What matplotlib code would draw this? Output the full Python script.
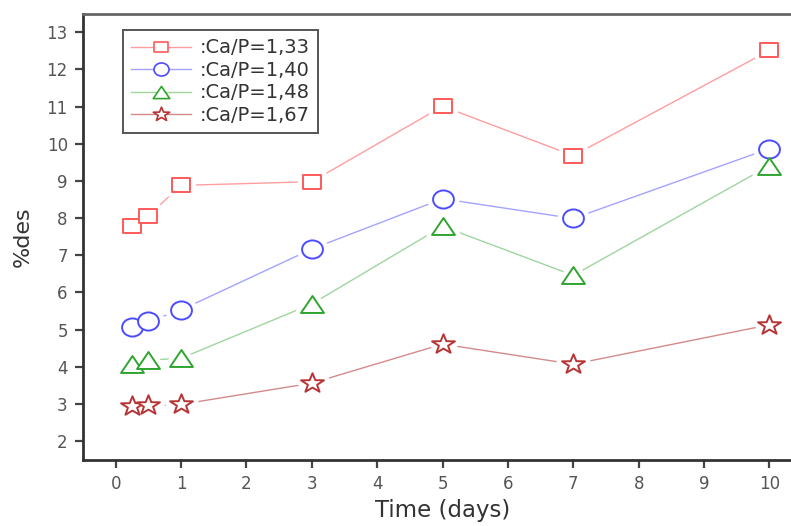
"""Ca/P ratio dissolution curves: %des versus time (days)."""
import matplotlib
matplotlib.use("Agg")
import matplotlib.pyplot as plt
import numpy as np
from matplotlib.lines import Line2D
from matplotlib.path import Path

plt.rcParams["font.family"] = ["DejaVu Sans"]

# ---------------------------------------------------------------------------
# Data
# ---------------------------------------------------------------------------
time_days = [0.25, 0.5, 1, 3, 5, 7, 10]
des_133 = [7.80, 8.07, 8.88, 8.98, 11.01, 9.68, 12.51]
des_140 = [5.06, 5.22, 5.53, 7.17, 8.52, 7.99, 9.87]
des_148 = [4.07, 4.18, 4.23, 5.69, 7.78, 6.46, 9.41]
des_167 = [2.94, 2.97, 2.99, 3.56, 4.61, 4.07, 5.13]
labels = [":Ca/P=1,33", ":Ca/P=1,40", ":Ca/P=1,48", ":Ca/P=1,67"]
x_ticks = list(range(0, 11))
y_ticks = list(range(2, 14))


def squashed(path, yscale):
    """Marker path flattened vertically (the original is slightly wide)."""
    verts = np.array(path.vertices, dtype=float).copy()
    verts[:, 1] *= yscale
    return Path(verts, path.codes)


SQUARE = squashed(Path([(-1, -1), (1, -1), (1, 1), (-1, 1), (-1, -1)],
                       [Path.MOVETO, Path.LINETO, Path.LINETO, Path.LINETO,
                        Path.CLOSEPOLY]), 0.79)
CIRCLE = squashed(Path.unit_circle(), 0.87)
TRIANGLE = squashed(Path([(0, 1), (-1, -1), (1, -1), (0, 1)],
                         [Path.MOVETO, Path.LINETO, Path.LINETO,
                          Path.CLOSEPOLY]), 0.74)
STAR = squashed(Path.unit_regular_star(5, 0.40), 0.85)

SERIES = [
    # values, marker, size, edge colour, line colour
    (des_133, SQUARE, 13.2, "#ff5a5a", "#ff9e9e"),
    (des_140, CIRCLE, 15.0, "#4b4bff", "#a3a3ff"),
    (des_148, TRIANGLE, 16.5, "#30a530", "#9ed69e"),
    (des_167, STAR, 16.5, "#b83434", "#d48a8a"),
]

fig = plt.figure(figsize=(7.91, 5.26), dpi=100)
ax = fig.add_axes([0.105, 0.126, 0.909, 0.848])

handles = []
for (vals, mk, ms, edge, line_c), lab in zip(SERIES, labels):
    ax.plot(time_days, vals, color=line_c, linewidth=1.0, zorder=1)
    # white halo leaves the small gap between line and marker
    ax.plot(time_days, vals, linestyle="none", marker=mk, markersize=ms,
            markerfacecolor="white", markeredgecolor="white",
            markeredgewidth=8, zorder=2)
    ax.plot(time_days, vals, linestyle="none", marker=mk, markersize=ms,
            markerfacecolor="white", markeredgecolor=edge,
            markeredgewidth=1.4, zorder=3)
    handles.append(Line2D([], [], color=line_c, linewidth=1.0, marker=mk,
                          markersize=ms * 0.72, markerfacecolor="white",
                          markeredgecolor=edge, markeredgewidth=1.2,
                          label=lab))

ax.set_xlim(-0.5, 10.5)
ax.set_ylim(1.5, 13.5)
ax.set_xticks(x_ticks)
ax.set_yticks(y_ticks)
ax.tick_params(direction="out", length=6, width=1.6, colors="#444444",
               labelsize=12, pad=5)
ax.tick_params(axis="x", pad=5)
for t in ax.get_xticklabels() + ax.get_yticklabels():
    t.set_color("#555555")

for side in ("left", "bottom"):
    ax.spines[side].set_linewidth(2.0)
    ax.spines[side].set_color("#333333")
ax.spines["top"].set_linewidth(2.0)
ax.spines["top"].set_color("#666666")
ax.spines["right"].set_visible(False)

ax.set_xlabel("Time (days)", fontsize=16.5, color="#333333", labelpad=4)
ax.set_ylabel("%des", fontsize=16, color="#333333", labelpad=10)

leg = ax.legend(handles=handles, loc="upper left",
                bbox_to_anchor=(0.055, 0.963), borderaxespad=0,
                fontsize=14, handlelength=3.1, handletextpad=0.45,
                labelspacing=0.18, borderpad=0.42, fancybox=False,
                framealpha=1, edgecolor="#555555")
leg.get_frame().set_linewidth(1.4)
for t in leg.get_texts():
    t.set_color("#333333")

fig.savefig("out.png", dpi=100)
